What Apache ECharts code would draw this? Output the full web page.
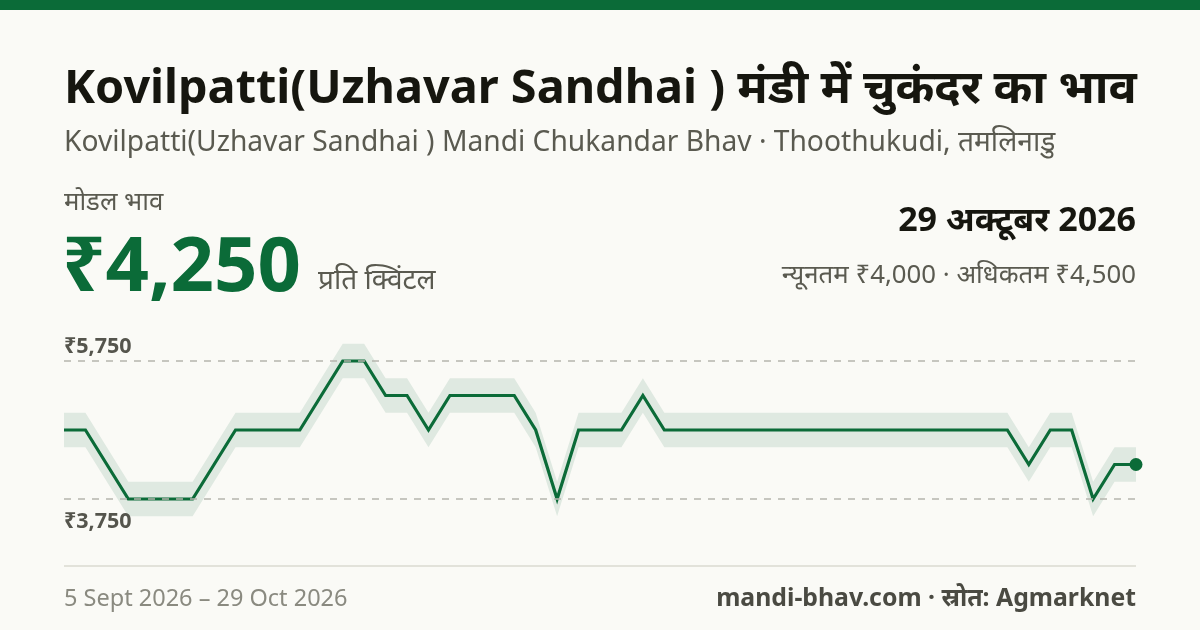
<!DOCTYPE html>
<html>
<head>
<meta charset="utf-8">
<script src="https://cdn.jsdelivr.net/npm/echarts@6/dist/echarts.min.js"></script>
<style>
  html, body { margin: 0; padding: 0; background: #fafaf6; }
  #chart { width: 1200px; height: 630px; }
</style>
</head>
<body>
<div id="chart"></div>
<script>
// 51 price reports, 5 Sept 2026 - 29 Oct 2026
var dates = [];
for (var d = 0; d < 51; d++) dates.push('d' + d);

var modal = [4750, 4750, 4250, 3750, 3750, 3750, 3750, 4250, 4750, 4750,
             4750, 4750, 5250, 5750, 5750, 5250, 5250, 4750, 5250, 5250,
             5250, 5250, 4750, 3750, 4750, 4750, 4750, 5250, 4750, 4750,
             4750, 4750, 4750, 4750, 4750, 4750, 4750, 4750, 4750, 4750,
             4750, 4750, 4750, 4750, 4750, 4250, 4750, 4750, 3750, 4250,
             4250];
var minPrice = [4500, 4500, 4000, 3500, 3500, 3500, 3500, 4000, 4500, 4500,
                4500, 4500, 5000, 5500, 5500, 5000, 5000, 4500, 5000, 5000,
                5000, 5000, 4500, 3500, 4500, 4500, 4500, 5000, 4500, 4500,
                4500, 4500, 4500, 4500, 4500, 4500, 4500, 4500, 4500, 4500,
                4500, 4500, 4500, 4500, 4500, 4000, 4500, 4500, 3500, 4000,
                4000];
var maxPrice = [5000, 5000, 4500, 4000, 4000, 4000, 4000, 4500, 5000, 5000,
                5000, 5000, 5500, 6000, 6000, 5500, 5500, 5000, 5500, 5500,
                5500, 5500, 5000, 4000, 5000, 5000, 5000, 5500, 5000, 5000,
                5000, 5000, 5000, 5000, 5000, 5000, 5000, 5000, 5000, 5000,
                5000, 5000, 5000, 5000, 5000, 4500, 5000, 5000, 4000, 4500,
                4500];
var refLines = [5750, 3750];
var refLabels = ['₹5,750', '₹3,750'];

var green = '#0b6b38';
var font = '"Noto Sans", "Open Sans", sans-serif';

var chart = echarts.init(document.getElementById('chart'));

var bandSpread = maxPrice.map(function (v, i) { return v - minPrice[i]; });
var last = modal.length - 1;

var option = {
  backgroundColor: '#fafaf6',
  animation: false,
  grid: { left: 64, right: 64, top: 326.5, bottom: 96.5 },
  xAxis: {
    type: 'category',
    data: dates,
    boundaryGap: false,
    show: false
  },
  yAxis: {
    type: 'value',
    min: 3250,
    max: 6250,
    show: false
  },
  graphic: [
    { type: 'rect', shape: { x: 0, y: 0, width: 1200, height: 10 }, style: { fill: green } },
    { type: 'text', left: 64, top: 66,
      style: { text: 'Kovilpatti(Uzhavar Sandhai ) मंडी में चुकंदर का भाव', font: 'bold 46.8px ' + font, fill: '#16160f' } },
    { type: 'text', left: 64, top: 129,
      style: { text: 'Kovilpatti(Uzhavar Sandhai ) Mandi Chukandar Bhav · Thoothukudi, तमलिनाडु', font: '28.2px ' + font, fill: '#5a5a50' } },
    { type: 'text', left: 64, top: 190,
      style: { text: 'मोडल भाव', font: '25.8px ' + font, fill: '#5a5a50' } },
    { type: 'text', left: 62, top: 231,
      style: { text: '₹4,250', font: 'bold 76px ' + font, fill: green } },
    { type: 'text', left: 318, top: 267,
      style: { text: 'प्रति क्विंटल', font: '28px ' + font, fill: '#5a5a50' } },
    { type: 'text', right: 64, top: 204,
      style: { text: '29 अक्टूबर 2026', font: 'bold 34px ' + font, fill: '#16160f', align: 'right' } },
    { type: 'text', right: 64, top: 263,
      style: { text: 'न्यूनतम ₹4,000 · अधिकतम ₹4,500', font: '25.8px ' + font, fill: '#5a5a50', align: 'right' } },
    { type: 'rect', shape: { x: 64, y: 565, width: 1072, height: 2 }, style: { fill: '#e2e2da' } },
    { type: 'text', left: 64, top: 587,
      style: { text: '5 Sept 2026 – 29 Oct 2026', font: '23.5px ' + font, fill: '#8a8a80' } },
    { type: 'text', right: 64, top: 586,
      style: { text: 'mandi-bhav.com · स्रोत: Agmarknet', font: 'bold 24.8px ' + font, fill: '#4a4a42', align: 'right' } }
  ],
  series: [
    {
      name: 'min',
      type: 'line',
      data: minPrice,
      stack: 'band',
      symbol: 'none',
      lineStyle: { width: 0, opacity: 0 },
      silent: true
    },
    {
      name: 'band',
      type: 'line',
      data: bandSpread,
      stack: 'band',
      symbol: 'none',
      lineStyle: { width: 0, opacity: 0 },
      areaStyle: { color: '#dfe9e1', opacity: 1 },
      silent: true
    },
    {
      name: 'modal',
      type: 'line',
      data: modal.map(function (v, i) {
        return i === last ? { value: v, symbol: 'circle', symbolSize: 13 } : v;
      }),
      symbol: 'none',
      showAllSymbol: true,
      lineStyle: { color: green, width: 3.2, join: 'miter' },
      itemStyle: { color: green },
      markLine: {
        silent: true,
        symbol: 'none',
        lineStyle: { color: '#b5b5ad', type: [7, 7], width: 1.5 },
        data: refLines.map(function (v, i) {
          return {
            yAxis: v,
            label: {
              show: true,
              formatter: refLabels[i],
              position: i === 0 ? 'insideStartTop' : 'insideStartBottom',
              distance: i === 0 ? [0, 3] : [0, 12],
              color: '#55554d',
              fontWeight: 'bold',
              fontSize: 21.5,
              fontFamily: font
            }
          };
        })
      }
    }
  ]
};

chart.setOption(option);
</script>
</body>
</html>
